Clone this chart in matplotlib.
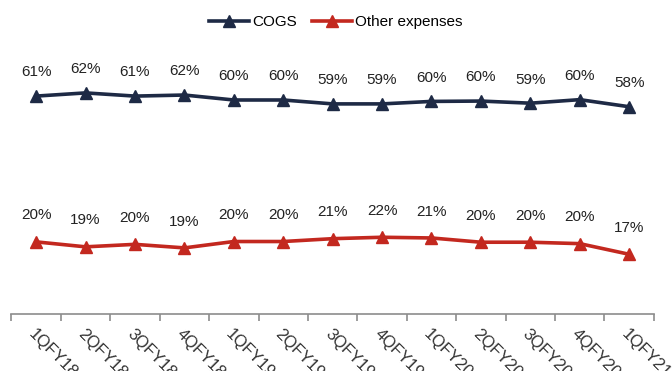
import numpy as np
import matplotlib.pyplot as plt

# quarters and values (% of revenue)
quarters = ["1QFY18", "2QFY18", "3QFY18", "4QFY18", "1QFY19", "2QFY19", "3QFY19",
            "4QFY19", "1QFY20", "2QFY20", "3QFY20", "4QFY20", "1QFY21"]
cogs = [61.4, 62.3, 61.4, 61.7, 60.3, 60.3, 59.2, 59.2, 59.9, 60.0, 59.4, 60.4, 58.4]
other = [20.3, 18.9, 19.6, 18.6, 20.4, 20.4, 21.2, 21.6, 21.4, 20.2, 20.2, 19.8, 16.8]

plt.rcParams['font.family'] = ['Liberation Sans', 'DejaVu Sans']

fig = plt.figure(figsize=(6.72, 3.71), dpi=100)
ax = fig.add_axes([0.017, 0.154, 0.956, 0.717])

x = np.arange(len(quarters))
navy = "#1e2a45"
red = "#c3281f"
ax.plot(x, cogs, color=navy, lw=2.6, marker="^", ms=8, label="COGS")
ax.plot(x, other, color=red, lw=2.6, marker="^", ms=8, label="Other expenses")

# data labels
for i in range(len(x)):
    ax.annotate("%.0f%%" % cogs[i], (x[i], cogs[i]), xytext=(0, 17), textcoords="offset points",
                ha="center", va="center", fontsize=11, color="#222222")
    ax.annotate("%.0f%%" % other[i], (x[i], other[i]), xytext=(0, 19), textcoords="offset points",
                ha="center", va="center", fontsize=11, color="#222222")

ax.set_xlim(-0.5, len(x) - 0.5)
ax.set_ylim(0, 75)
ax.set_yticks([])
for s in ["top", "right", "left"]:
    ax.spines[s].set_visible(False)
ax.spines["bottom"].set_color("#8c8c8c")
ax.spines["bottom"].set_linewidth(1.2)

# tick marks between categories, labels at categories
ax.set_xticks(x)
ax.set_xticks(np.arange(len(x) + 1) - 0.5, minor=True)
ax.tick_params(axis="x", which="major", length=0, pad=9)
ax.tick_params(axis="x", which="minor", length=5, width=1.2, color="#8c8c8c")
ax.set_xticklabels(quarters, rotation=-45, ha="left", va="top", rotation_mode="anchor",
                   fontsize=12, color="#333333")

fig.legend(*ax.get_legend_handles_labels(), loc="center", bbox_to_anchor=(0.5, 1 - 22 / 371),
           ncol=2, frameon=False, fontsize=11, handlelength=2.6, columnspacing=1.0,
           handletextpad=0.2)

fig.savefig("out.png", dpi=100)
